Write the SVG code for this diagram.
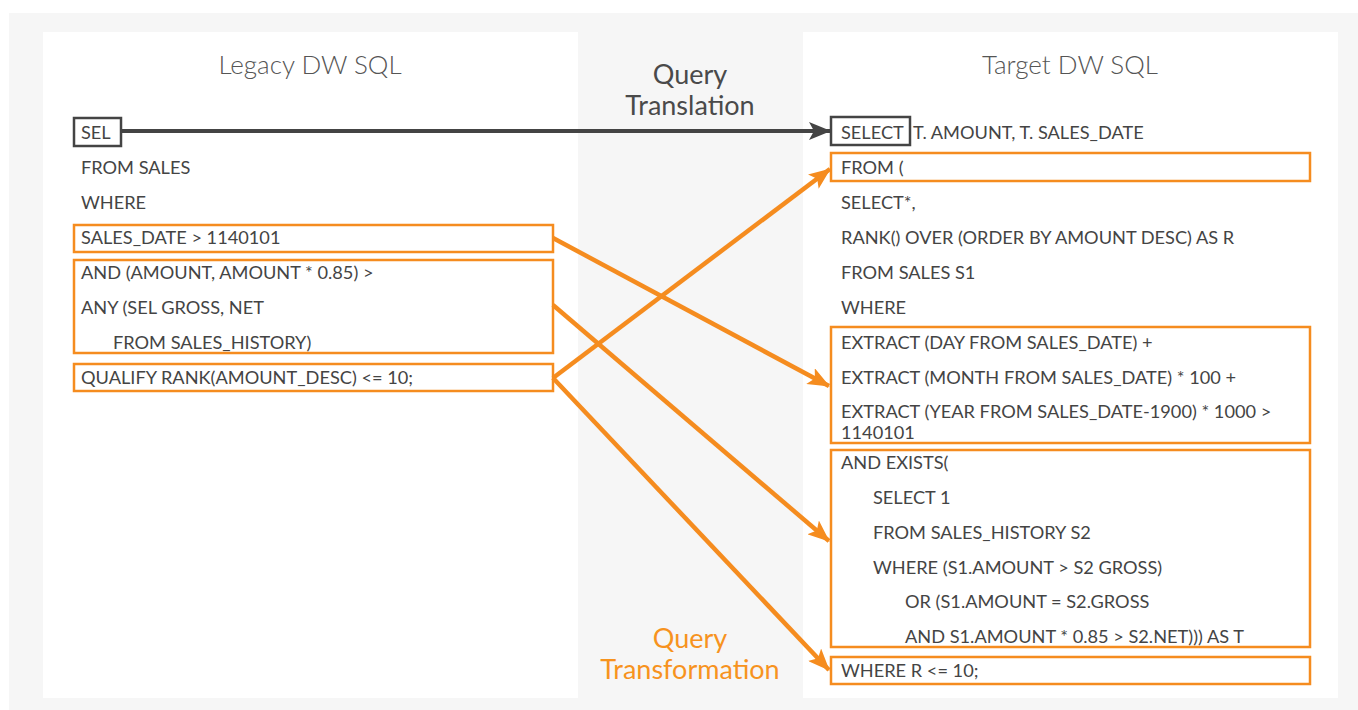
<svg xmlns="http://www.w3.org/2000/svg" width="1358" height="710" viewBox="0 0 1358 710">
<defs>
<style>
.code{font-family:Lato,"Open Sans","Liberation Sans",sans-serif;font-size:18.2px;fill:#444;}
.title{font-family:Lato,"Open Sans","Liberation Sans",sans-serif;font-size:26px;font-weight:300;fill:#555;text-anchor:middle;}
.mid{font-family:Lato,"Open Sans","Liberation Sans",sans-serif;font-size:27px;fill:#4a4a4a;text-anchor:middle;}
.midO{font-family:Lato,"Open Sans","Liberation Sans",sans-serif;font-size:27px;fill:#f7931e;text-anchor:middle;}
.obox{fill:none;stroke:#f58c1f;stroke-width:2.5;}
.dbox{fill:none;stroke:#444;stroke-width:2.5;}
.oarrow{stroke:#f58c1f;stroke-width:4.5;fill:none;marker-end:url(#ah-o);}
.darrow{stroke:#444;stroke-width:4;fill:none;marker-end:url(#ah-d);}
</style>
<marker id="ah-o" viewBox="0 0 22 18" refX="21" refY="9" markerWidth="22" markerHeight="18" markerUnits="userSpaceOnUse" orient="auto">
<path d="M0,0 L22,9 L0,18 L5,9 Z" fill="#f58c1f"/>
</marker>
<marker id="ah-d" viewBox="0 0 22 18" refX="21" refY="9" markerWidth="22" markerHeight="18" markerUnits="userSpaceOnUse" orient="auto">
<path d="M0,0 L22,9 L0,18 L5,9 Z" fill="#444"/>
</marker>
</defs>
<rect x="9" y="13" width="1349" height="697" fill="#f6f6f6"/>
<rect x="43" y="32" width="535" height="666" fill="#fff"/>
<rect x="803" y="32" width="535" height="666" fill="#fff"/>

<g id="legacy-title"><text class="title" x="310" y="74">Legacy DW SQL</text></g>
<g id="target-title"><text class="title" x="1070" y="74">Target DW SQL</text></g>
<g id="label-translation"><text class="mid" x="690" y="84">Query</text><text class="mid" x="690" y="115">Translation</text></g>
<g id="label-transformation"><text class="midO" x="690" y="648">Query</text><text class="midO" x="690" y="679">Transformation</text></g>

<g id="legacy-sel"><rect class="dbox" x="74" y="118" width="47" height="28"/><text class="code" x="81" y="139">SEL</text></g>
<g id="legacy-from"><text class="code" x="81" y="174">FROM SALES</text></g>
<g id="legacy-where"><text class="code" x="81" y="209">WHERE</text></g>
<g id="legacy-date"><rect class="obox" x="74" y="225" width="479" height="27"/><text class="code" x="81" y="244">SALES_DATE &gt; 1140101</text></g>
<g id="legacy-any"><rect class="obox" x="74" y="260" width="479" height="93"/><text class="code" x="81" y="279">AND (AMOUNT, AMOUNT * 0.85) &gt;</text><text class="code" x="81" y="314">ANY (SEL GROSS, NET</text><text class="code" x="113" y="349">FROM SALES_HISTORY)</text></g>
<g id="legacy-qualify"><rect class="obox" x="74" y="364" width="479" height="27"/><text class="code" x="81" y="384">QUALIFY RANK(AMOUNT_DESC) &lt;= 10;</text></g>

<g id="target-select"><rect class="dbox" x="831" y="117" width="79" height="28"/><text class="code" x="841" y="139">SELECT</text><text class="code" x="913" y="139">T. AMOUNT, T. SALES_DATE</text></g>
<g id="target-from"><rect class="obox" x="831" y="153" width="479" height="28"/><text class="code" x="841" y="174">FROM (</text></g>
<g id="target-sub"><text class="code" x="841" y="209">SELECT*,</text><text class="code" x="841" y="244">RANK() OVER (ORDER BY AMOUNT DESC) AS R</text><text class="code" x="841" y="279">FROM SALES S1</text><text class="code" x="841" y="314">WHERE</text></g>
<g id="target-extract"><rect class="obox" x="831" y="327" width="479" height="116"/><text class="code" x="841" y="349">EXTRACT (DAY FROM SALES_DATE) +</text><text class="code" x="841" y="384">EXTRACT (MONTH FROM SALES_DATE) * 100 +</text><text class="code" x="841" y="418">EXTRACT (YEAR FROM SALES_DATE-1900) * 1000 &gt;</text><text class="code" x="841" y="439">1140101</text></g>
<g id="target-exists"><rect class="obox" x="831" y="450" width="479" height="197"/><text class="code" x="841" y="469">AND EXISTS(</text><text class="code" x="873" y="504">SELECT 1</text><text class="code" x="873" y="539">FROM SALES_HISTORY S2</text><text class="code" x="873" y="574">WHERE (S1.AMOUNT &gt; S2 GROSS)</text><text class="code" x="905" y="608">OR (S1.AMOUNT = S2.GROSS</text><text class="code" x="905" y="643">AND S1.AMOUNT * 0.85 &gt; S2.NET))) AS T</text></g>
<g id="target-whereR"><rect class="obox" x="831" y="657" width="479" height="27"/><text class="code" x="841" y="677">WHERE R &lt;= 10;</text></g>

<g id="connectors">
<line class="darrow" x1="121" y1="131" x2="830" y2="131"/>
<line class="oarrow" x1="553" y1="238" x2="829" y2="386"/>
<line class="oarrow" x1="553" y1="305" x2="829" y2="541"/>
<line class="oarrow" x1="553" y1="378" x2="830" y2="169"/>
<line class="oarrow" x1="553" y1="378" x2="829" y2="670"/>
</g>
</svg>
